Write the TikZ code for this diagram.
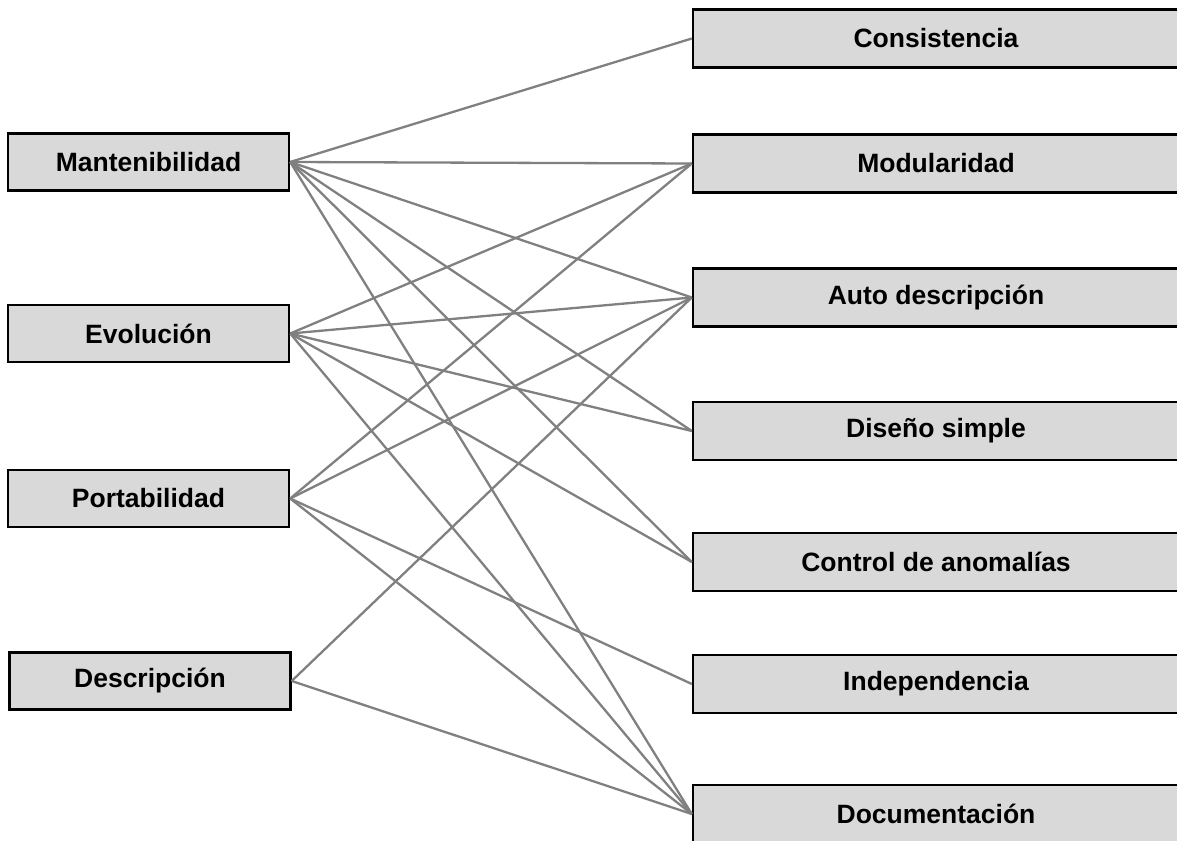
\documentclass[tikz,border=0pt]{standalone}
\usepackage{fontspec}
\setmainfont{Liberation Sans}
\begin{document}
\begin{tikzpicture}[x=1pt,y=-1pt,
  factor/.style={draw=black, line width=2.4pt, fill=boxgray, minimum width=281pt,
    minimum height=57pt, inner sep=0pt, font=\fontsize{26.5}{30}\selectfont\bfseries},
  criterio/.style={draw=black, line width=2.4pt, fill=boxgray, minimum width=486pt,
    minimum height=58pt, inner sep=0pt, font=\fontsize{26.5}{30}\selectfont\bfseries},
  link/.style={draw=linkgray, line width=2.3pt}]
\definecolor{boxgray}{HTML}{D9D9D9}
\definecolor{linkgray}{HTML}{808080}
\useasboundingbox (0,0) rectangle (1177,840);

% quality factors (left column)
\node[factor] (mant) at (148.5,162) {Mantenibilidad};
\node[factor] (evol) at (148.5,333.5) {Evolución};
\node[factor] (port) at (148.5,498.5) {Portabilidad};
\node[factor] (desc) at (150,681) {Descripción};

% criteria (right column)
\node[criterio] (cons) at (936,38.5) {Consistencia};
\node[criterio] (modu) at (936,163.5) {Modularidad};
\node[criterio] (auto) at (936,297.5) {Auto descripción};
\node[criterio] (dise) at (936,431) {Diseño simple};
\node[criterio] (ctrl) at (936,562) {Control de anomalías};
\node[criterio] (inde) at (936,684) {Independencia};
\node[criterio] (docu) at (936,814) {Documentación};

% factor-criterion relations
\foreach \c in {cons,modu,auto,dise,ctrl,docu}
  \draw[link] (mant.east) -- (\c.west);
\foreach \c in {modu,auto,dise,ctrl,docu}
  \draw[link] (evol.east) -- (\c.west);
\foreach \c in {modu,auto,inde,docu}
  \draw[link] (port.east) -- (\c.west);
\foreach \c in {auto,docu}
  \draw[link] (desc.east) -- (\c.west);
\end{tikzpicture}
\end{document}
